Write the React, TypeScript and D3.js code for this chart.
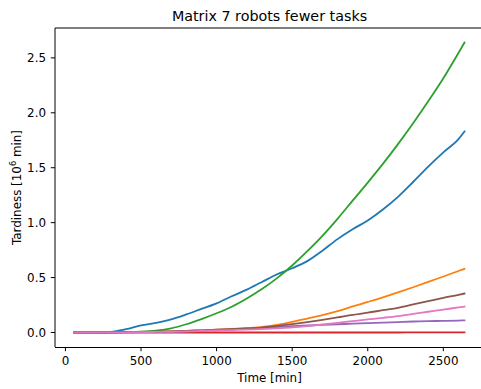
import React from "react";
import * as d3 from "d3";

// Time grid in minutes (shared by every series)
const times = [60, 100, 200, 300, 400, 500, 600, 700, 800, 900, 1000, 1100, 1200, 1300, 1400, 1500, 1600, 1700, 1800, 1900, 2000, 2100, 2200, 2300, 2400, 2500, 2600, 2640];

// Cumulative tardiness per strategy, in 10^6 min
const seriesBlue = [0, 0, 0.001, 0.006, 0.03, 0.065, 0.088, 0.12, 0.165, 0.215, 0.265, 0.33, 0.39, 0.46, 0.53, 0.585, 0.65, 0.745, 0.85, 0.94, 1.02, 1.12, 1.235, 1.37, 1.51, 1.64, 1.76, 1.83];
const seriesOrange = [0, 0, 0.001, 0.002, 0.003, 0.005, 0.008, 0.011, 0.015, 0.02, 0.025, 0.032, 0.04, 0.05, 0.07, 0.097, 0.127, 0.158, 0.195, 0.237, 0.278, 0.32, 0.365, 0.412, 0.46, 0.51, 0.56, 0.58];
const seriesGreen = [0, 0, 0, 0.001, 0.003, 0.007, 0.017, 0.038, 0.075, 0.122, 0.175, 0.235, 0.31, 0.395, 0.495, 0.61, 0.74, 0.88, 1.035, 1.2, 1.365, 1.535, 1.715, 1.905, 2.105, 2.315, 2.545, 2.64];
const seriesRed = [0, 0, 0, 0, 0, 0, 0, 0, 0, 0, 0, 0, 0, 0, 0, 0, 0, 0, 0, 0, 0, 0, 0, 0.001, 0.001, 0.001, 0.001, 0.001];
const seriesPurple = [0, 0, 0, 0.001, 0.002, 0.003, 0.005, 0.007, 0.01, 0.015, 0.02, 0.027, 0.035, 0.043, 0.05, 0.058, 0.065, 0.07, 0.075, 0.08, 0.085, 0.09, 0.095, 0.1, 0.103, 0.106, 0.109, 0.11];
const seriesBrown = [0, 0, 0.001, 0.002, 0.003, 0.004, 0.007, 0.011, 0.015, 0.02, 0.025, 0.031, 0.037, 0.045, 0.06, 0.077, 0.095, 0.115, 0.137, 0.16, 0.18, 0.203, 0.225, 0.255, 0.285, 0.315, 0.343, 0.355];
const seriesPink = [0, 0, 0, 0.001, 0.002, 0.003, 0.005, 0.007, 0.01, 0.014, 0.018, 0.022, 0.026, 0.031, 0.038, 0.046, 0.058, 0.073, 0.088, 0.104, 0.119, 0.134, 0.15, 0.169, 0.189, 0.209, 0.228, 0.236];

const xTicks = [0, 500, 1000, 1500, 2000, 2500];
const yTicks = [0, 0.5, 1.0, 1.5, 2.0, 2.5];

const series = [
  { values: seriesBlue, color: "#1f77b4" },
  { values: seriesOrange, color: "#ff7f0e" },
  { values: seriesGreen, color: "#2ca02c" },
  { values: seriesRed, color: "#d62728" },
  { values: seriesPurple, color: "#9467bd" },
  { values: seriesBrown, color: "#8c564b" },
  { values: seriesPink, color: "#e377c2" },
];

const W = 481;
const H = 389;
const left = 55;
const right = 484;
const top = 28;
const bottom = 347;
const font = "DejaVu Sans, sans-serif";

function padded(lo: number, hi: number): [number, number] {
  const m = (hi - lo) * 0.05;
  return [lo - m, hi + m];
}

export default function App() {
  const [tMin, tMax] = d3.extent(times) as [number, number];
  const allVals = series.flatMap((s) => s.values);
  const vMin = d3.min(allVals) as number;
  const vMax = d3.max(allVals) as number;

  const x = d3.scaleLinear().domain(padded(tMin, tMax)).range([left, right]);
  const y = d3.scaleLinear().domain(padded(vMin, vMax)).range([bottom, top]);

  const line = d3
    .line<number>()
    .x((_, i) => x(times[i]))
    .y((d) => y(d))
    .curve(d3.curveMonotoneX);

  return (
    <svg
      width={W}
      height={H}
      style={{ position: "absolute", left: 0, top: 0, background: "#fff" }}
      fontFamily={font}
    >
      <defs>
        <clipPath id="plotArea">
          <rect x={left} y={top} width={right - left} height={bottom - top} />
        </clipPath>
      </defs>

      <text x={269.5} y={20.5} textAnchor="middle" fontSize={14.3} fill="#000">
        Matrix 7 robots fewer tasks
      </text>

      <g clipPath="url(#plotArea)">
        {series.map((s, k) => (
          <path
            key={k}
            d={line(s.values) ?? ""}
            fill="none"
            stroke={s.color}
            strokeWidth={1.8}
            strokeLinejoin="round"
            strokeLinecap="square"
          />
        ))}
      </g>

      {/* spines */}
      <line x1={left} x2={left} y1={top} y2={bottom} stroke="#000" strokeWidth={1} />
      <line x1={left} x2={right} y1={top} y2={top} stroke="#000" strokeWidth={1} />
      <line x1={left} x2={right} y1={bottom + 0.5} y2={bottom + 0.5} stroke="#000" strokeWidth={1} />

      {/* x axis */}
      {xTicks.map((t) => (
        <g key={t}>
          <line x1={x(t)} x2={x(t)} y1={bottom} y2={bottom + 4.2} stroke="#000" strokeWidth={1} />
          <text x={x(t)} y={365} textAnchor="middle" fontSize={11.9} fill="#000">
            {t}
          </text>
        </g>
      ))}
      <text x={269.5} y={381.5} textAnchor="middle" fontSize={11.9} fill="#000">
        Time [min]
      </text>

      {/* y axis */}
      {yTicks.map((v) => (
        <g key={v}>
          <line x1={left - 4.2} x2={left} y1={y(v)} y2={y(v)} stroke="#000" strokeWidth={1} />
          <text x={46} y={y(v) + 4.3} textAnchor="end" fontSize={11.9} fill="#000">
            {v.toFixed(1)}
          </text>
        </g>
      ))}
      <text
        transform={`translate(20.5, ${(top + bottom) / 2}) rotate(-90)`}
        textAnchor="middle"
        fontSize={11.9}
        fill="#000"
      >
        Tardiness [10
        <tspan fontSize={8.3} dy={-5}>6</tspan>
        <tspan dy={5}> min]</tspan>
      </text>
    </svg>
  );
}
